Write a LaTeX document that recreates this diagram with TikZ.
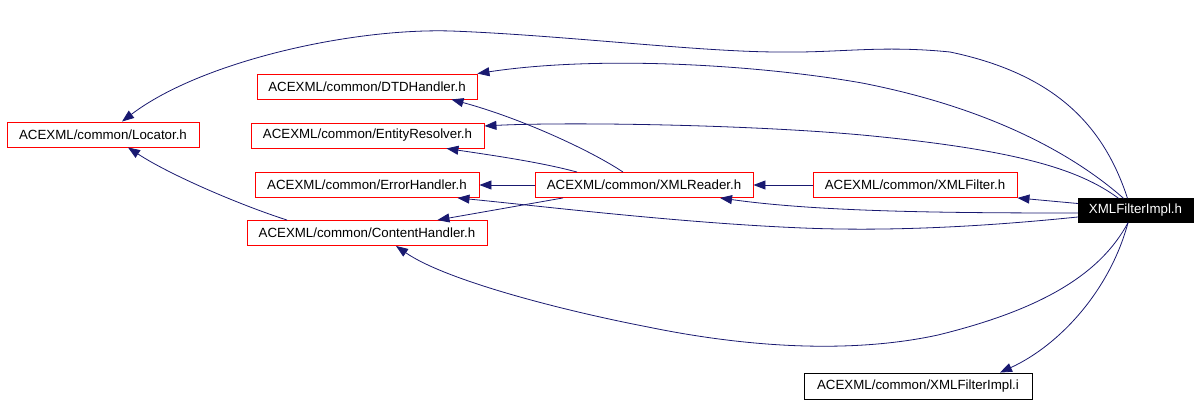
\documentclass[tikz,border=0pt]{standalone}
\usepackage{fontspec}
\setmainfont{Liberation Sans}
\usepackage{tikz}
\usetikzlibrary{arrows.meta}
\definecolor{incblue}{RGB}{25,25,112}
\tikzset{->, > = {Triangle[length = 12pt, width = 9pt]}, font = \fontsize{13.3}{15}\selectfont}
\tikzset{hdr/.style = {draw = red, line width = 0.9pt, minimum height = 25pt, inner sep = 0pt}}
\tikzset{root/.style = {draw, fill = black, text = white, minimum height = 24pt, inner sep = 0pt}}
\tikzset{impl/.style = {draw, line width = 0.9pt, minimum height = 26pt, inner sep = 0pt}}
\tikzset{dep/.style = {draw = incblue, line width = 0.8pt}}

\begin{document}
\begin{tikzpicture}[x = 1pt, y = -1pt]
  \useasboundingbox (0,0) rectangle (1200,403);
  % nodes
  \node [hdr, minimum width = 192pt] (loc) at (103,134.5) {ACEXML/common/Locator.h};
  \node [hdr, minimum width = 220pt] (dtd) at (367,86.5) {ACEXML/common/DTDHandler.h};
  \node [hdr, minimum width = 233pt] (ent) at (367.5,135.5) {ACEXML/common/EntityResolver.h};
  \node [hdr, minimum width = 224pt] (err) at (367,185) {ACEXML/common/ErrorHandler.h};
  \node [hdr, minimum width = 240pt] (cnt) at (367,233) {ACEXML/common/ContentHandler.h};
  \node [hdr, minimum width = 218pt] (rdr) at (644,185) {ACEXML/common/XMLReader.h};
  \node [hdr, minimum width = 204pt] (flt) at (915,185) {ACEXML/common/XMLFilter.h};
  \node [root, minimum width = 115pt] (fimpl) at (1135.5,210.5) {XMLFilterImpl.h};
  \node [impl, minimum width = 228pt] (fimpli) at (918,386) {ACEXML/common/XMLFilterImpl.i};
  % paths from XMLFilterImpl.h
  \draw [dep] ([xshift = -8pt]fimpl.north) .. controls (1105,130) and (1060,75) .. (950,52)
    .. controls (880,45) and (840,53) .. (779,52)
    .. controls (700,52) and (560,35) .. (451,31)
    .. controls (350,28) and (200,62) .. ([xshift = 19pt]loc.north);
  \draw [dep] ([xshift = -12pt]fimpl.north) .. controls (1080,160) and (1000,110) .. (862,83)
    .. controls (760,65) and (600,55) .. (dtd.north east);
  \draw [dep] ([xshift = -17pt]fimpl.north) .. controls (1080,170) and (1020,150) .. (862,135)
    .. controls (740,124) and (560,122) .. ([yshift = 9.5pt]ent.east);
  \draw [dep] ([yshift = 7pt]fimpl.west) -- (flt.south east);
  \draw [dep] ([yshift = -2.5pt]fimpl.west) .. controls (950,213) and (820,212) .. ([xshift = 76pt]rdr.south);
  \draw [dep] ([yshift = -6.5pt]fimpl.west) .. controls (1000,225) and (900,232) .. (803,228)
    .. controls (680,223) and (540,206) .. ([xshift = -22pt]err.south east);
  \draw [dep] ([xshift = -7.5pt]fimpl.south) .. controls (1100,275) and (1040,310) .. (938,335)
    .. controls (860,352) and (760,350) .. (648,327)
    .. controls (560,310) and (445,280) .. ([xshift = 29pt]cnt.south);
  \draw [dep] ([xshift = -7.5pt]fimpl.south) .. controls (1110,290) and (1060,345) .. ([xshift = 82pt]fimpli.north);
  % paths from XMLFilter.h and XMLReader.h
  \draw [dep] (flt) -- (rdr);
  \draw [dep] (rdr) -- (err);
  \draw [dep] ([xshift = -21pt]rdr.north) .. controls (590,150) and (520,118) .. ([xshift = -26pt]dtd.south east);
  \draw [dep] ([xshift = -67pt]rdr.north) .. controls (540,162) and (490,155) .. ([xshift = -38pt]ent.south east);
  \draw [dep] ([xshift = -81pt]rdr.south) -- ([xshift = -50pt]cnt.north east);
  % path from ContentHandler.h
  \draw [dep] ([xshift = -80pt]cnt.north) .. controls (240,205) and (170,175) .. ([xshift = 25pt]loc.south);
\end{tikzpicture}
\end{document}
